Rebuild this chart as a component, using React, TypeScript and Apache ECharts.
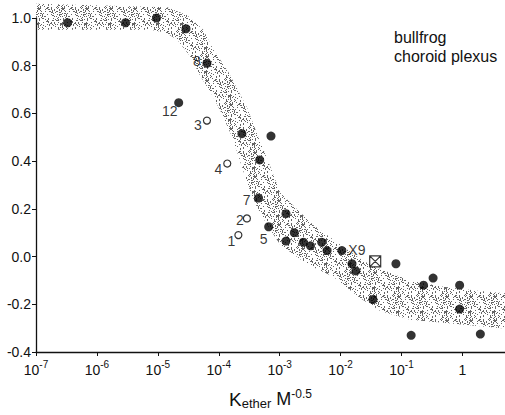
import React, { useEffect, useRef } from "react";
import * as echarts from "echarts";

// Filled circles: ether partition constant (M^-0.5) vs. relative permeability
const filledK = [3.3e-7, 2.95e-6, 9.5e-6, 2.9e-5, 6.4e-5, 2.2e-5, 2.4e-4, 7.2e-4, 4.7e-4, 4.5e-4, 1.27e-3, 6.6e-4, 1.74e-3, 1.27e-3, 2.45e-3, 3.2e-3, 4.9e-3, 6.0e-3, 1.05e-2, 1.54e-2, 1.78e-2, 3.4e-2, 8.1e-2, 0.33, 0.23, 0.9, 0.9, 0.144, 1.97];
const filledY = [0.98, 0.98, 1.0, 0.955, 0.81, 0.645, 0.515, 0.505, 0.405, 0.245, 0.18, 0.125, 0.1, 0.065, 0.06, 0.045, 0.06, 0.025, 0.025, -0.03, -0.06, -0.18, -0.03, -0.09, -0.12, -0.12, -0.22, -0.33, -0.325];
const filledTag = ["", "", "", "", "8", "12", "", "", "", "7", "", "5", "", "", "", "", "", "", "X9", "", "", "", "", "", "", "", "", "", ""];

// Open circles
const openK = [2.1e-4, 2.9e-4, 6.4e-5, 1.38e-4];
const openY = [0.09, 0.16, 0.57, 0.39];
const openTag = ["1", "2", "3", "4"];

// Boxed cross
const boxK = [3.7e-2];
const boxY = [-0.02];

// Shaded band: upper and lower edges
const bandUpperK = [1e-7, 1.42e-5, 3.03e-5, 5.55e-5, 8.1e-5, 1.43e-4, 2.93e-4, 4.28e-4, 7.0e-4, 1.02e-3, 1.67e-3, 3.56e-3, 9.9e-3, 2.36e-2, 4.49e-2, 0.14, 0.49, 1.76, 5];
const bandUpperY = [1.06, 1.045, 1.012, 0.951, 0.869, 0.775, 0.623, 0.513, 0.378, 0.267, 0.214, 0.132, 0.05, -0.019, -0.052, -0.101, -0.126, -0.143, -0.154];
const bandLowerK = [1e-7, 7.46e-6, 1.32e-5, 2.07e-5, 3.39e-5, 4.95e-5, 7.8e-5, 1.14e-4, 1.66e-4, 2.25e-4, 3.05e-4, 4.12e-4, 6.25e-4, 1.02e-3, 2.84e-3, 7.59e-3, 2.11e-2, 4.49e-2, 0.14, 0.486, 5];
const bandLowerY = [0.951, 0.951, 0.939, 0.91, 0.84, 0.758, 0.677, 0.595, 0.501, 0.398, 0.296, 0.214, 0.132, 0.05, -0.032, -0.085, -0.175, -0.228, -0.265, -0.277, -0.302];

const yTicks = [-0.4, -0.2, 0.0, 0.2, 0.4, 0.6, 0.8, 1.0];

// label placement relative to the marker centre
const tagOffset: Record<string, [number, number]> = {
  "8": [-10, -2],
  "12": [-9, 8],
  "7": [-12, 2],
  "5": [-5, 12],
  X9: [15, -1],
  "1": [-7, 6],
  "2": [-7, 2],
  "3": [-9, 4],
  "4": [-9, 5],
};

const FONT = "'Liberation Sans', Arial, Helvetica, sans-serif";
const NARROW = "'Liberation Sans Narrow', 'Liberation Sans', Arial, sans-serif";
const INK = "#111";

// small tile of scattered dark pixels used to stipple the band
function stippleTile(): HTMLCanvasElement {
  const size = 24;
  const c = document.createElement("canvas");
  c.width = size;
  c.height = size;
  const ctx = c.getContext("2d")!;
  const img = ctx.createImageData(size, size);
  let s = 9173;
  for (let i = 0; i < size * size; i++) {
    s = (s * 1103515245 + 12345) & 0x7fffffff;
    const on = ((s >> 8) % 1000) < 240;
    img.data[i * 4] = 30;
    img.data[i * 4 + 1] = 30;
    img.data[i * 4 + 2] = 30;
    img.data[i * 4 + 3] = on ? 175 : 0;
  }
  ctx.putImageData(img, 0, 0);
  return c;
}

function tagged(k: number[], y: number[], tags: string[]) {
  return k.map((kv, i) => {
    const t = tags[i];
    if (!t) return { value: [kv, y[i]] };
    return {
      value: [kv, y[i]],
      label: {
        show: true,
        formatter: t,
        position: "inside",
        offset: tagOffset[t] || [0, 0],
        color: "#000",
        fontFamily: FONT,
        fontSize: 14,
      },
    };
  });
}

export default function App() {
  const ref = useRef<HTMLDivElement>(null);

  useEffect(() => {
    document.body.style.margin = "0";
    if (!ref.current) return;
    const chart = echarts.init(ref.current, undefined, { renderer: "svg" });
    const tile = stippleTile();

    const option: any = {
      animation: false,
      backgroundColor: "#fff",
      grid: { left: 36, right: 0, top: 18, bottom: 55, containLabel: false },
      xAxis: {
        type: "log",
        logBase: 10,
        min: 1e-7,
        max: 5,
        splitLine: { show: false },
        axisLine: { onZero: false, lineStyle: { color: INK, width: 1.3 } },
        axisTick: { show: true, length: 4, inside: false, lineStyle: { color: INK } },
        axisLabel: {
          margin: 7,
          showMaxLabel: false,
          color: INK,
          fontFamily: NARROW,
          formatter: (v: number) => {
            const e = Math.log10(v);
            const r = Math.round(e);
            if (Math.abs(e - r) > 1e-6) return "";
            if (r === 0) return "{b|1}";
            return "{b|10}{e|" + r + "}";
          },
          rich: {
            b: { fontSize: 14, fontFamily: NARROW, color: INK, lineHeight: 18, verticalAlign: "bottom" },
            e: { fontSize: 10, fontFamily: NARROW, color: INK, lineHeight: 10, verticalAlign: "top" },
          },
        },
        name: "{k|K}{s|ether}{m| M}{p|-0.5}",
        nameLocation: "middle",
        nameGap: 36,
        nameTextStyle: {
          rich: {
            k: { fontSize: 19, fontFamily: FONT, color: INK, lineHeight: 22, verticalAlign: "middle" },
            s: { fontSize: 13, fontFamily: FONT, color: INK, lineHeight: 22, verticalAlign: "bottom" },
            m: { fontSize: 18, fontFamily: FONT, color: INK, lineHeight: 22, verticalAlign: "middle" },
            p: { fontSize: 12, fontFamily: FONT, color: INK, lineHeight: 12, verticalAlign: "top" },
          },
        },
      },
      yAxis: {
        type: "value",
        min: yTicks[0],
        max: yTicks[yTicks.length - 1],
        interval: 0.2,
        splitLine: { show: false },
        axisLine: { show: true, onZero: false, lineStyle: { color: INK, width: 1.3 } },
        axisTick: { show: true, length: 4, inside: false, lineStyle: { color: INK } },
        axisLabel: {
          margin: 5,
          color: INK,
          fontFamily: NARROW,
          fontSize: 14,
          formatter: (v: number) => v.toFixed(1),
        },
      },
      graphic: [
        {
          type: "text",
          left: 394,
          top: 28,
          style: {
            text: "bullfrog\nchoroid plexus",
            fontFamily: FONT,
            fontSize: 16,
            lineHeight: 19,
            fill: INK,
          },
        },
      ],
      series: [
        {
          type: "custom",
          clip: false,
          silent: true,
          z: 1,
          data: [[1e-3, 0.5]],
          renderItem: (_params: any, api: any) => {
            const pts: number[][] = [];
            for (let i = 0; i < bandUpperK.length; i++) pts.push(api.coord([bandUpperK[i], bandUpperY[i]]));
            for (let i = bandLowerK.length - 1; i >= 0; i--) pts.push(api.coord([bandLowerK[i], bandLowerY[i]]));
            return {
              type: "polygon",
              shape: { points: pts },
              style: { fill: { image: tile, repeat: "repeat", imageWidth: 24, imageHeight: 24 }, stroke: null },
            };
          },
        },
        {
          type: "scatter",
          z: 3,
          symbol: "circle",
          symbolSize: 9,
          itemStyle: { color: "#000" },
          data: tagged(filledK, filledY, filledTag),
        },
        {
          type: "scatter",
          z: 3,
          symbol: "circle",
          symbolSize: 7,
          itemStyle: { color: "#fff", borderColor: "#000", borderWidth: 1.2 },
          data: tagged(openK, openY, openTag),
        },
        {
          type: "scatter",
          z: 3,
          symbol: "path://M0,0H10V10H0Z M0,0L10,10 M10,0L0,10",
          symbolSize: 11,
          itemStyle: { color: "#fff", borderColor: "#000", borderWidth: 1.2 },
          data: boxK.map((k, i) => [k, boxY[i]]),
        },
      ],
    };

    chart.setOption(option);
    return () => chart.dispose();
  }, []);

  return <div ref={ref} style={{ width: 505, height: 415 }} />;
}
